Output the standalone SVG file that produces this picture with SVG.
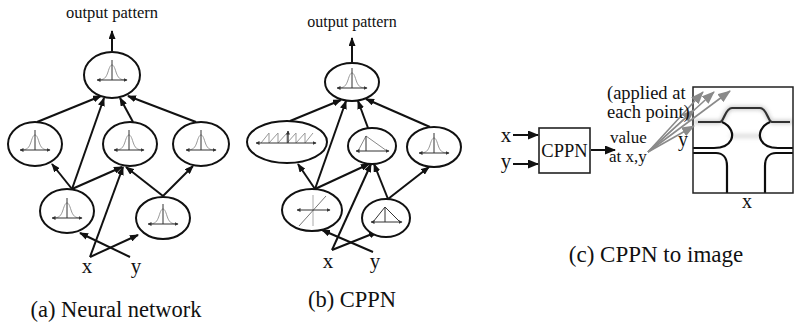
<svg xmlns="http://www.w3.org/2000/svg" width="794" height="326" viewBox="0 0 794 326">
  <style>
    text { font-family: "Liberation Serif", "DejaVu Serif", "Times New Roman", serif; fill: #111; }
    .node { fill: #fff; stroke: #111; stroke-width: 2; }
    .edge { stroke: #111; stroke-width: 2; fill: none; marker-end: url(#arr); }
    .axis { stroke: #333; stroke-width: 1; fill: none; marker-start: url(#tip); marker-end: url(#tip); }
    .tick { stroke: #333; stroke-width: 1; }
    .curve { stroke: #999; stroke-width: 1; fill: none; }
    .gray { stroke: #8a8a8a; stroke-width: 1.6; fill: none; marker-end: url(#garr); }
    .blk { stroke: #111; stroke-width: 2; fill: none; }
    .pat { stroke: #111; stroke-width: 2.2; fill: none; }
  </style>
  <defs>
    <marker id="arr" markerUnits="userSpaceOnUse" markerWidth="9" markerHeight="7" refX="8" refY="3.5" orient="auto">
      <path d="M0,0 L9,3.5 L0,7 Z" fill="#111"/>
    </marker>
    <marker id="barr" markerUnits="userSpaceOnUse" markerWidth="11" markerHeight="9" refX="10" refY="4.5" orient="auto">
      <path d="M0,0 L11,4.5 L0,9 Z" fill="#111"/>
    </marker>
    <marker id="tip" markerUnits="userSpaceOnUse" markerWidth="4" markerHeight="4" refX="3.5" refY="2" orient="auto-start-reverse">
      <path d="M0,0 L4,2 L0,4 Z" fill="#333"/>
    </marker>
    <marker id="garr" markerUnits="userSpaceOnUse" markerWidth="13" markerHeight="10" refX="12" refY="5" orient="auto">
      <path d="M0,0 L13,5 L0,10 Z" fill="#8a8a8a"/>
    </marker>
    <filter id="soft" x="-20%" y="-20%" width="140%" height="140%">
      <feGaussianBlur stdDeviation="0.5"/>
    </filter>
    <filter id="haze" x="-20%" y="-50%" width="140%" height="200%">
      <feGaussianBlur stdDeviation="2"/>
    </filter>
    <!-- bell-shaped activation icon, axis at y=0 -->
    <g id="gauss">
      <path class="curve" d="M-14,0 C-8,0 -6,-2 -4,-8 C-2.5,-13 -1.5,-15 0,-15 C1.5,-15 2.5,-13 4,-8 C6,-2 8,0 14,0"/>
      <line class="tick" x1="0" y1="-20" x2="0" y2="0"/>
      <line class="axis" x1="-15" y1="0" x2="15" y2="0"/>
    </g>
  </defs>

  <!-- ===== (a) neural network ===== -->
  <text x="112" y="18" font-size="16.5" text-anchor="middle">output pattern</text>
  <g id="a-edges">
    <line class="edge" x1="112" y1="51" x2="112" y2="31"/>
    <line class="edge" x1="37" y1="122" x2="101" y2="96"/>
    <line class="edge" x1="72" y1="189" x2="104" y2="98"/>
    <line class="edge" x1="133" y1="122" x2="120" y2="98"/>
    <line class="edge" x1="196" y1="122" x2="128" y2="96"/>
    <line class="edge" x1="72" y1="189" x2="52" y2="164"/>
    <line class="edge" x1="72" y1="189" x2="122" y2="167"/>
    <line class="edge" x1="90" y1="257" x2="123" y2="167"/>
    <line class="edge" x1="163" y1="196" x2="126" y2="167"/>
    <line class="edge" x1="163" y1="196" x2="193" y2="166"/>
    <line class="edge" x1="90" y1="257" x2="138" y2="235"/>
    <line class="edge" x1="130" y1="257" x2="80" y2="233"/>
  </g>
  <g id="a-out">
    <ellipse class="node" cx="112" cy="75" rx="28" ry="23"/>
    <use href="#gauss" x="112" y="80"/>
  </g>
  <g id="a-h1">
    <ellipse class="node" cx="35" cy="144" rx="27" ry="22"/>
    <use href="#gauss" x="35" y="150"/>
  </g>
  <g id="a-h2">
    <ellipse class="node" cx="130" cy="144" rx="27" ry="22"/>
    <use href="#gauss" x="129" y="150"/>
  </g>
  <g id="a-h3">
    <ellipse class="node" cx="201" cy="144" rx="28" ry="22"/>
    <use href="#gauss" x="201" y="150"/>
  </g>
  <g id="a-h4">
    <ellipse class="node" cx="67" cy="211" rx="27" ry="22"/>
    <use href="#gauss" x="67" y="218"/>
  </g>
  <g id="a-h5">
    <ellipse class="node" cx="163" cy="218" rx="27" ry="21"/>
    <use href="#gauss" x="163" y="224"/>
  </g>
  <text x="87" y="273" font-size="21" text-anchor="middle">x</text>
  <text x="136" y="273" font-size="21" text-anchor="middle">y</text>
  <text x="116" y="317" font-size="22.5" text-anchor="middle">(a) Neural network</text>

  <!-- ===== (b) CPPN ===== -->
  <text x="352" y="27" font-size="16" text-anchor="middle">output pattern</text>
  <g id="b-edges">
    <line class="edge" x1="352" y1="63" x2="352" y2="38"/>
    <line class="edge" x1="290" y1="121" x2="341" y2="100"/>
    <line class="edge" x1="315" y1="189" x2="346" y2="101"/>
    <line class="edge" x1="368" y1="128" x2="358" y2="101"/>
    <line class="edge" x1="430" y1="127" x2="366" y2="99"/>
    <line class="edge" x1="315" y1="189" x2="298" y2="164"/>
    <line class="edge" x1="315" y1="189" x2="369" y2="164"/>
    <line class="edge" x1="332" y1="250" x2="371" y2="164"/>
    <line class="edge" x1="388" y1="199" x2="374" y2="164"/>
    <line class="edge" x1="388" y1="199" x2="429" y2="167"/>
    <line class="edge" x1="332" y1="250" x2="377" y2="232"/>
    <line class="edge" x1="373" y1="252" x2="322" y2="230"/>
  </g>
  <g id="b-out">
    <ellipse class="node" cx="352" cy="82" rx="27" ry="19"/>
    <use href="#gauss" x="352" y="88"/>
  </g>
  <g id="b-saw">
    <ellipse class="node" cx="287" cy="142" rx="40" ry="21"/>
    <path class="curve" d="M-26,0 L-18,-10 L-18,0 L-9,-10 L-9,0 L0,-10 L0,0 L9,-10 L9,0 L18,-10 L18,0 L26,-10" transform="translate(287,143)"/>
    <line x1="288" y1="143" x2="288" y2="131" stroke="#222" stroke-width="1.2" marker-end="url(#tip)"/>
    <line class="axis" x1="256" y1="143" x2="316" y2="143"/>
  </g>
  <g id="b-tent">
    <ellipse class="node" cx="372" cy="146" rx="24" ry="18"/>
    <path d="M358,151 L366,136 L387,151" stroke="#888" stroke-width="1" fill="none"/>
    <line class="tick" x1="366" y1="136" x2="366" y2="151"/>
    <line class="axis" x1="356" y1="151" x2="389" y2="151"/>
  </g>
  <g id="b-gauss">
    <ellipse class="node" cx="434" cy="147" rx="27" ry="20"/>
    <use href="#gauss" x="434" y="153"/>
  </g>
  <g id="b-linear">
    <ellipse class="node" cx="312" cy="210" rx="30" ry="21"/>
    <line x1="313" y1="195" x2="313" y2="226" stroke="#aaa" stroke-width="1"/>
    <line x1="299" y1="226" x2="326" y2="196" stroke="#777" stroke-width="1"/>
    <line class="axis" x1="297" y1="210" x2="330" y2="210"/>
  </g>
  <g id="b-tri">
    <ellipse class="node" cx="386" cy="218" rx="24" ry="19"/>
    <path d="M373,222 L385,207 L400,222" stroke="#333" stroke-width="1" fill="none"/>
    <line class="tick" x1="385" y1="207" x2="385" y2="222"/>
    <line class="axis" x1="371" y1="222" x2="402" y2="222"/>
  </g>
  <text x="328" y="268" font-size="21" text-anchor="middle">x</text>
  <text x="375" y="268" font-size="21" text-anchor="middle">y</text>
  <text x="352" y="307" font-size="22.5" text-anchor="middle">(b) CPPN</text>

  <!-- ===== (c) CPPN to image ===== -->
  <g id="c-image">
    <rect x="693" y="87" width="100" height="106" fill="#fff"/>
    <g filter="url(#haze)" stroke="#999" stroke-width="3" fill="none" opacity="0.7">
      <path d="M693,122 H720 C724,122 725,108 732,108 H760 C767,108 768,122 772,122 H793"/>
      <path d="M730,136 H762" stroke="#bbb"/>
    </g>
    <g filter="url(#soft)" class="pat">
      <path d="M698,122 H720 C724,122 725,108 732,108 H760 C767,108 768,122 772,122 H790" stroke="#333"/>
      <path d="M722,122 C731,126 734,134 731,140 C728,146 722,148 714,148 H693"/>
      <path d="M770,122 C761,126 758,134 761,140 C764,146 770,148 778,148 H793"/>
      <path d="M693,153 H716 C723,153 727,158 727,166 V193"/>
      <path d="M793,153 H776 C769,153 765,158 765,166 V193"/>
    </g>
    <rect x="693" y="87" width="100" height="106" fill="none" stroke="#222" stroke-width="1.5"/>
  </g>
  <g id="c-cppn">
    <rect x="539" y="128" width="51" height="45" fill="#fff" stroke="#222" stroke-width="1.6"/>
    <text x="564.5" y="157" font-size="18.5" text-anchor="middle">CPPN</text>
  </g>
  <g id="c-edges">
    <line class="blk" x1="513" y1="135" x2="538" y2="135" marker-end="url(#barr)"/>
    <line class="blk" x1="513" y1="164" x2="538" y2="164" marker-end="url(#barr)"/>
    <line class="blk" x1="591" y1="150" x2="615" y2="150" marker-end="url(#barr)"/>
    <line class="gray" x1="648" y1="152" x2="703" y2="92"/>
    <line class="gray" x1="648" y1="152" x2="714" y2="92"/>
    <line class="gray" x1="648" y1="152" x2="730" y2="91"/>
    <line class="gray" x1="648" y1="152" x2="694" y2="110"/>
    <line class="gray" x1="648" y1="152" x2="694" y2="126"/>
  </g>
  <text x="506" y="142" font-size="21" text-anchor="middle">x</text>
  <text x="506" y="168" font-size="21" text-anchor="middle">y</text>
  <text x="607" y="99" font-size="18.5">(applied at</text>
  <text x="607" y="118" font-size="18.5">each point)</text>
  <text x="610" y="143" font-size="17">value</text>
  <text x="609" y="162" font-size="17">at x,y</text>
  <text x="683" y="146" font-size="20" text-anchor="middle">y</text>
  <text x="747" y="208" font-size="20" text-anchor="middle">x</text>
  <text x="656" y="262" font-size="23" text-anchor="middle">(c) CPPN to image</text>
</svg>
